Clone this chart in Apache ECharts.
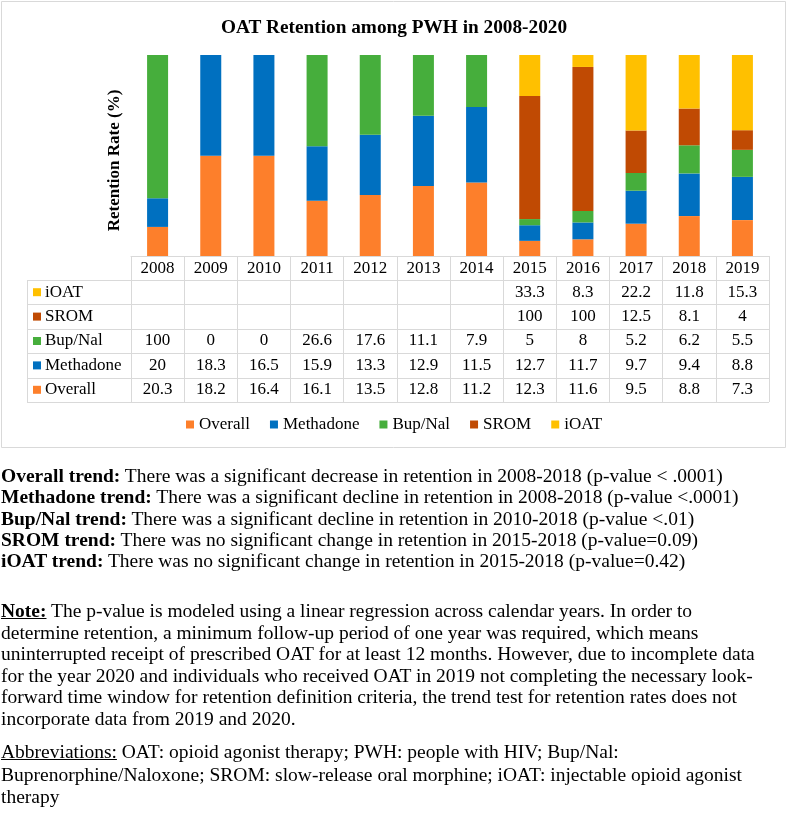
<!DOCTYPE html>
<html>
<head>
<meta charset="utf-8">
<script src="https://cdn.jsdelivr.net/npm/echarts@6/dist/echarts.min.js"></script>
<style>
  body { margin: 0; background: #fff; }
  #wrap { position: relative; width: 788px; height: 827px; }
  #chart { position: absolute; left: 0; top: 0; width: 788px; height: 827px; }
  .notes {
    position: absolute; left: 1px; width: 786px; white-space: nowrap;
    font-family: "Liberation Serif", serif; font-size: 19.5px; line-height: 21.3px; color: #000;
  }
  .notes b { font-weight: bold; }
  .notes u { text-decoration: underline; }
</style>
</head>
<body>
<div id="wrap">
  <div id="chart"></div>
  <div class="notes" style="top:465px">
    <b>Overall trend:</b> There was a significant decrease in retention in 2008-2018 (p-value &lt; .0001)<br>
    <b>Methadone trend:</b> There was a significant decline in retention in 2008-2018 (p-value &lt;.0001)<br>
    <b>Bup/Nal trend:</b> There was a significant decline in retention in 2010-2018 (p-value &lt;.01)<br>
    <b>SROM trend:</b> There was no significant change in retention in 2015-2018 (p-value=0.09)<br>
    <b>iOAT trend:</b> There was no significant change in retention in 2015-2018 (p-value=0.42)
  </div>
  <div class="notes" style="top:600px; line-height:21.6px">
    <b><u>Note:</u></b> The p-value is modeled using a linear regression across calendar years. In order to<br>
    determine retention, a minimum follow-up period of one year was required, which means<br>
    uninterrupted receipt of prescribed OAT for at least 12 months. However, due to incomplete data<br>
    for the year 2020 and individuals who received OAT in 2019 not completing the necessary look-<br>
    forward time window for retention definition criteria, the trend test for retention rates does not<br>
    incorporate data from 2019 and 2020.
  </div>
  <div class="notes" style="top:741px; line-height:22.5px">
    <u>Abbreviations:</u> OAT: opioid agonist therapy; PWH: people with HIV; Bup/Nal:<br>
    Buprenorphine/Naloxone; SROM: slow-release oral morphine; iOAT: injectable opioid agonist<br>
    therapy
  </div>
</div>
<script>
// data
var years = ['2008', '2009', '2010', '2011', '2012', '2013', '2014', '2015', '2016', '2017', '2018', '2019'];
var overall = [20.3, 18.2, 16.4, 16.1, 13.5, 12.8, 11.2, 12.3, 11.6, 9.5, 8.8, 7.3];
var methadone = [20, 18.3, 16.5, 15.9, 13.3, 12.9, 11.5, 12.7, 11.7, 9.7, 9.4, 8.8];
var bupNal = [100, 0, 0, 26.6, 17.6, 11.1, 7.9, 5, 8, 5.2, 6.2, 5.5];
var srom = [null, null, null, null, null, null, null, 100, 100, 12.5, 8.1, 4];
var ioat = [null, null, null, null, null, null, null, 33.3, 8.3, 22.2, 11.8, 15.3];

var seriesNames = ['Overall', 'Methadone', 'Bup/Nal', 'SROM', 'iOAT'];
var seriesData = [overall, methadone, bupNal, srom, ioat];
var colors = ['#FD7F2B', '#0070C0', '#46AE3C', '#C04A03', '#FFC000'];

var FONT = 'Liberation Serif';
var gridLeft = 131, gridRight = 19, gridTop = 55, gridBottomY = 256;
var tableLeft = 27, rowH = 24.4, headerH = 24;

// the bars are 100% stacked: each year is split by its total
var totals = years.map(function (y, i) {
  return seriesData.reduce(function (s, arr) { return s + (arr[i] || 0); }, 0);
});

var chart = echarts.init(document.getElementById('chart'));

var series = seriesNames.map(function (name, k) {
  return {
    type: 'bar',
    name: name,
    stack: 'total',
    barWidth: 21,
    itemStyle: { color: colors[k] },
    data: seriesData[k].map(function (v, i) {
      return v == null ? null : v / totals[i] * 100;
    })
  };
});

// data table under the plot (rows listed top to bottom: iOAT ... Overall)
var graphic = [];
var colW = (788 - gridLeft - gridRight) / years.length;
var rowsTop = gridBottomY + headerH;
var lineColor = '#d9d9d9';
for (var r = 0; r <= seriesNames.length; r++) {
  var y = Math.round(rowsTop + r * rowH) + 0.5;
  graphic.push({
    type: 'line', silent: true,
    shape: { x1: tableLeft, y1: y, x2: 788 - gridRight, y2: y },
    style: { stroke: lineColor, lineWidth: 1 }
  });
}
graphic.push({
  type: 'line', silent: true,
  shape: { x1: tableLeft + 0.5, y1: rowsTop, x2: tableLeft + 0.5, y2: rowsTop + seriesNames.length * rowH },
  style: { stroke: lineColor, lineWidth: 1 }
});
for (var k = seriesNames.length - 1; k >= 0; k--) {
  var row = seriesNames.length - 1 - k;
  var cy = rowsTop + (row + 0.5) * rowH;
  graphic.push({
    type: 'rect', silent: true,
    shape: { x: 33, y: cy - 4, width: 8, height: 8 },
    style: { fill: colors[k] }
  });
  graphic.push({
    type: 'text', silent: true,
    style: { text: seriesNames[k], x: 45, y: cy, verticalAlign: 'middle',
      font: '17px "' + FONT + '"', fill: '#000' }
  });
  seriesData[k].forEach(function (v, i) {
    if (v == null) return;
    graphic.push({
      type: 'text', silent: true,
      style: { text: String(v), x: gridLeft + (i + 0.5) * colW, y: cy,
        align: 'center', verticalAlign: 'middle', font: '17px "' + FONT + '"', fill: '#000' }
    });
  });
}
// outer frame of the chart area
graphic.push({
  type: 'rect', silent: true,
  shape: { x: 1.5, y: 1.5, width: 784, height: 446 },
  style: { fill: null, stroke: lineColor, lineWidth: 1 }
});

var option = {
  animation: false,
  title: {
    text: 'OAT Retention among PWH in 2008-2020',
    left: 'center',
    top: 14,
    textStyle: { fontFamily: FONT, fontWeight: 'bold', fontSize: 19.3, color: '#000' }
  },
  legend: {
    data: seriesNames,
    top: 411,
    left: 'center',
    icon: 'rect',
    itemWidth: 8,
    itemHeight: 8,
    itemGap: 20,
    textStyle: { fontFamily: FONT, fontSize: 17, color: '#000' }
  },
  grid: {
    left: gridLeft,
    right: gridRight,
    top: gridTop,
    bottom: 827 - gridBottomY,
    containLabel: false
  },
  xAxis: {
    type: 'category',
    data: years,
    axisLine: { lineStyle: { color: lineColor } },
    axisTick: { show: true, interval: 0, length: headerH + seriesNames.length * rowH, lineStyle: { color: lineColor } },
    axisLabel: { interval: 0, margin: 4, fontFamily: FONT, fontSize: 17, color: '#000' }
  },
  yAxis: {
    type: 'value',
    min: 0,
    max: 100,
    name: 'Retention Rate (%)',
    nameLocation: 'middle',
    nameRotate: 90,
    nameGap: 8,
    nameTextStyle: { fontFamily: FONT, fontWeight: 'bold', fontSize: 17, color: '#000', padding: [0, 10, 0, 0] },
    axisLine: { show: false },
    axisTick: { show: false },
    axisLabel: { show: false },
    splitLine: { show: false }
  },
  graphic: graphic,
  series: series
};
chart.setOption(option);
</script>
</body>
</html>
